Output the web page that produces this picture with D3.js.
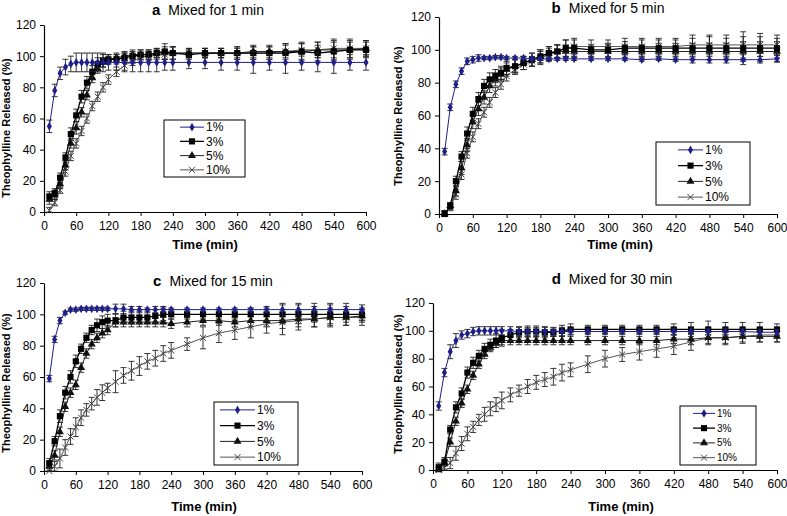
<!DOCTYPE html>
<html><head><meta charset="utf-8">
<script src="https://cdn.jsdelivr.net/npm/d3@7/dist/d3.min.js"></script>
<style>body{margin:0;background:#fff}svg{display:block}</style>
</head><body>
<script>
// ---------- DATA ----------
const times = [10,20,30,40,50,60,70,80,90,100,110,120,135,150,165,180,195,210,225,240,270,300,330,360,390,420,450,480,510,540,570,600];
const xTicks = [0,60,120,180,240,300,360,420,480,540,600];
const yTicks = [0,20,40,60,80,100,120];
const seriesNames = ["1%","3%","5%","10%"];
const panelLetters = ["a","b","c","d"];
const panelTitles = ["Mixed for 1 min","Mixed for 5 min","Mixed for 15 min","Mixed for 30 min"];
const xLabel = "Time (min)";
const yLabel = "Theophylline Released  (%)";

// Panel a (1 min)
const a_1 = [55,78,89,93,95,96,96,96,96,96,96,96,96,96,96,96,96,96,96,96,96,96,96,96,96,96,96,96,96,96,96,96];
const a_3 = [10,12,22,35,50,62,74,83,90,95,97,98,98,99,100,101,101,102,103,102,101,102,102,102,102,102,102,103,102,103,104,104];
const a_5 = [8,11,18,30,44,54,64,75,86,92,96,98,99,100,101,101,101,102,102,102,102,102,102,102,103,103,103,103,104,104,104,105];
const a_10 = [1,6,14,26,36,44,52,60,68,74,80,85,90,94,97,99,100,101,101,102,102,102,102,102,102,102,103,104,104,105,105,105];
const a_1e = [4,4,4,5,5,6,6,6,6,6,6,5,5,6,6,6,6,6,5,5,4,4,5,5,7,5,7,5,6,7,5,5];
const a_3e = [3,3,3,3,4,4,4,4,4,4,4,3,3,3,3,3,3,3,5,4,3,3,3,4,4,4,6,6,5,6,6,5];
const a_5e = [3,3,3,3,3,4,3,3,3,3,3,3,3,3,3,3,3,3,4,4,3,3,3,4,4,4,5,5,5,6,5,5];
const a_10e = [2,2,2,3,3,3,3,3,3,3,3,3,3,3,3,3,3,3,3,4,3,3,3,3,4,4,4,4,5,6,6,5];

// Panel b (5 min)
const b_1 = [38,65,79,87,93,94,95,95,95,95.5,95.5,95,95,95,94.5,94.5,94.5,94.5,94.5,94.5,94.5,94.5,94.5,94,94.5,94,94,94,94,94,94,94.5];
const b_3 = [0,5,20,35,49,61,70,78,82,84,86,89,90,92,94,96,98,99,101,101,100,100,101,101,101,101,101,101,101,101,101,101];
const b_5 = [0,5,14,28,42,56,64,71,78,82,85,88,90,92,94,96,98,99,99,99,99,99,99,99,99,99,99,99,99,99,99,99];
const b_10 = [0,4,12,24,37,47,55,62,68,74,79,84,88,91,93,95,97,99,101,102,102,102,102,102,102,102,103,103,103,103,103,103];
const b_1e = [2,2,2,2,2,2,2,1,1,1,1,1,1,1,1,1,1,1,1,1,1,1,1,1,1,1,2,2,2,3,2,2];
const b_3e = [2,2,3,3,4,4,4,4,4,4,4,4,4,4,4,4,4,4,5,5,3,4,4,5,5,5,6,7,6,7,7,6];
const b_5e = [2,2,3,4,4,4,4,4,4,4,4,4,4,4,4,4,4,4,4,4,3,4,4,4,5,5,5,5,5,6,6,6];
const b_10e = [2,2,3,3,3,3,3,3,3,3,3,3,3,3,3,4,4,4,5,5,4,4,5,5,5,5,6,6,6,8,7,6];

// Panel c (15 min)
const c_1 = [59,84,96,101,103,103,103.5,103.5,103.5,103.5,103.5,103.5,103.5,103.5,103,103,103,103,103,103,103,103,103,103,103,103,103,103,103,103,103,103];
const c_3 = [5,19,35,50,60,70,78,85,90,93,95,96,96,98,98,98,98,99,100,100,100,100,100,100,100,100,100,100,100,100,100,100];
const c_5 = [3,10,25,41,50,55,66,75,81,85,88,90,95,95,95,95,95,95,95,94,95,96,96,95,96,96,96,97,97,98,98,99];
const c_10 = [0,3,8,15,22,28,34,39,43,47,50,53,57,61,64,67,70,72,75,77,81,85,88,90,92,94,95,96,97,98,98,98];
const c_1e = [2,2,2,1,1,1,1,1,1,1,1,1,3,3,2,2,1,2,2,1,1,1,1,1,1,2,4,4,4,4,4,3];
const c_3e = [3,3,4,4,4,4,3,3,3,4,4,4,4,4,4,4,3,4,4,3,3,3,3,3,4,4,6,6,5,6,5,4];
const c_5e = [3,3,3,3,3,3,3,3,3,3,3,3,3,3,3,3,3,3,3,3,3,3,3,3,4,4,5,5,5,6,5,4];
const c_10e = [2,3,6,5,5,6,5,4,4,5,5,3,7,5,6,6,5,5,5,5,4,7,6,6,7,6,8,6,5,5,5,5];

// Panel d (30 min)
const d_1 = [46,70,85,93,97,98,99.5,100,100,100,100,100,100,99.5,99.5,99.5,99.5,99.5,99.5,99.5,99.5,99.5,99.5,99.5,99.5,99.5,99.5,99.5,99.5,99.5,99,99];
const d_3 = [2,6,29,45,55,70,77,82,87,90,93,95,97,99,99.5,99.5,99,99,100,101,101,101,101,101,101,101,101,101,101,101,101,101];
const d_5 = [0,5,20,35,48,58,68,76,83,88,91,93,93,93,93,93,93,93,93,93,93,93,93,93,93,94,94,95,95,96,96,96];
const d_10 = [0,2,5,12,19,26,31,36,40,44,47,50,54,57,60,63,65,67,70,72,76,80,83,85,87,89,92,95,95,96,97,97];
const d_1e = [3,3,5,5,3,3,3,3,3,3,3,3,3,3,3,3,3,3,3,2,2,2,2,2,2,2,2,2,2,2,2,2];
const d_3e = [3,3,3,4,4,4,4,4,4,4,5,6,4,4,4,4,4,3,4,4,3,3,3,3,3,4,5,6,5,5,5,4];
const d_5e = [2,2,3,3,3,3,3,3,3,3,3,3,3,3,3,3,3,3,3,3,3,3,3,3,3,3,4,4,4,4,4,4];
const d_10e = [2,2,4,5,5,5,4,4,5,5,5,6,5,4,5,5,5,6,6,5,6,6,5,6,6,6,6,5,5,5,5,5];

const panelValues = [[a_1,a_3,a_5,a_10],[b_1,b_3,b_5,b_10],[c_1,c_3,c_5,c_10],[d_1,d_3,d_5,d_10]];
const panelErrors = [[a_1e,a_3e,a_5e,a_10e],[b_1e,b_3e,b_5e,b_10e],[c_1e,c_3e,c_5e,c_10e],[d_1e,d_3e,d_5e,d_10e]];

// ---------- LAYOUT / STYLE ----------
const layout = [
  {x0:44,x1:366,yTop:25,yBot:212,titleX:208,titleY:15,xlabX:205,xlabY:249,ylabX:10,ylabY:128,
   leg:{x:164,y:120,w:81,h:57,lx0:180,lx1:204,tx:206,fs:12}, tickFs:12},
  {x0:439,x1:777,yTop:17,yBot:214,titleX:608,titleY:13,xlabX:620,xlabY:249,ylabX:402,ylabY:116,
   leg:{x:656,y:142,w:94,h:63,lx0:678,lx1:703,tx:705,fs:12}, tickFs:12},
  {x0:44,x1:362,yTop:283,yBot:471,titleX:213,titleY:286,xlabX:204,xlabY:511,ylabX:10,ylabY:383,
   leg:{x:214,y:402,w:84,h:63,lx0:220,lx1:255,tx:257,fs:12}, tickFs:12},
  {x0:433,x1:777,yTop:303,yBot:470,titleX:612,titleY:284,xlabX:621,xlabY:511,ylabX:402,ylabY:384,
   leg:{x:680,y:406,w:76,h:59,lx0:693,lx1:715,tx:717,fs:10}, tickFs:12}
];

const W = 787, H = 516;

function draw() {
  const styles = [
    {color:"#1f1f8c", line:"#1f1f8c", lw:1, sym:d3.symbolDiamond, size:22, stroke:false},
    {color:"#000",    line:"#000",    lw:1.3, sym:d3.symbolSquare, size:38, stroke:false},
    {color:"#111",    line:"#222",    lw:1, sym:d3.symbolTriangle, size:28, stroke:false},
    {color:"#444",    line:"#555",    lw:1, sym:d3.symbolX || d3.symbolCross, size:26, stroke:true}
  ];
  const svg = d3.select("body").append("svg").attr("width", W).attr("height", H)
    .style("font-family", "Arial, 'Liberation Sans', sans-serif");

  function marker(g, st, x, y) {
    const p = d3.symbol().type(st.sym).size(st.size)();
    const m = g.append("path").attr("d", p).attr("transform", `translate(${x},${y})`);
    if (st.stroke) m.attr("fill","none").attr("stroke", st.color).attr("stroke-width",1);
    else m.attr("fill", st.color);
  }

  layout.forEach((L, pi) => {
    const g = svg.append("g");
    const x = d3.scaleLinear().domain([0,600]).range([L.x0, L.x1]);
    const y = d3.scaleLinear().domain([0,120]).range([L.yBot, L.yTop]);

    const xa = g.append("g").attr("transform", `translate(0,${L.yBot})`)
      .call(d3.axisBottom(x).tickValues(xTicks).tickSize(4).tickSizeOuter(0).tickPadding(5));
    const ya = g.append("g").attr("transform", `translate(${L.x0},0)`)
      .call(d3.axisLeft(y).tickValues(yTicks).tickSize(4).tickSizeOuter(0).tickPadding(4));
    [xa, ya].forEach(a => {
      a.select(".domain").attr("stroke", "#000").attr("stroke-width", 1.2);
      a.selectAll(".tick line").attr("stroke", "#000");
      a.selectAll("text").attr("font-size", L.tickFs).attr("fill", "#000")
        .attr("font-family", "Arial, 'Liberation Sans', sans-serif");
    });

    for (let si = 3; si >= 0; si--) {
      const st = styles[si];
      const vals = panelValues[pi][si], errs = panelErrors[pi][si];
      const pts = times.map((t, i) => ({t, v: vals[i], e: errs[i]}));
      const sg = g.append("g");
      pts.forEach(p => {
        const xx = x(p.t), yh = y(p.v + p.e), yl = y(Math.max(0, p.v - p.e));
        sg.append("line").attr("x1", xx).attr("x2", xx).attr("y1", yh).attr("y2", yl)
          .attr("stroke", "#222").attr("stroke-width", 0.9);
        [yh, yl].forEach(yy => sg.append("line").attr("x1", xx - 3).attr("x2", xx + 3)
          .attr("y1", yy).attr("y2", yy).attr("stroke", "#222").attr("stroke-width", 0.9));
      });
      sg.append("path").datum(pts)
        .attr("d", d3.line().x(d => x(d.t)).y(d => y(d.v)))
        .attr("fill", "none").attr("stroke", st.line).attr("stroke-width", st.lw);
      pts.forEach(p => marker(sg, st, x(p.t), y(p.v)));
    }

    const tt = g.append("text").attr("x", L.titleX).attr("y", L.titleY).attr("text-anchor", "middle")
      .attr("fill", "#000");
    tt.append("tspan").attr("font-weight", "bold").attr("font-size", 15).text(panelLetters[pi]);
    tt.append("tspan").attr("font-size", 14).attr("dx", 8).text(panelTitles[pi]);

    g.append("text").attr("x", L.xlabX).attr("y", L.xlabY).attr("text-anchor", "middle")
      .attr("font-weight", "bold").attr("font-size", 13).text(xLabel);
    g.append("text").attr("transform", `translate(${L.ylabX},${L.ylabY}) rotate(-90)`)
      .attr("text-anchor", "middle").attr("font-weight", "bold").attr("font-size", 11).text(yLabel);

    const lg = L.leg;
    const leg = g.append("g");
    leg.append("rect").attr("x", lg.x).attr("y", lg.y).attr("width", lg.w).attr("height", lg.h)
      .attr("fill", "#fff").attr("stroke", "#000").attr("stroke-width", 1);
    const step = lg.h / 4;
    seriesNames.forEach((nm, si) => {
      const st = styles[si];
      const yy = lg.y + step * (si + 0.5);
      leg.append("line").attr("x1", lg.lx0).attr("x2", lg.lx1).attr("y1", yy).attr("y2", yy)
        .attr("stroke", st.line).attr("stroke-width", st.lw);
      marker(leg, st, (lg.lx0 + lg.lx1) / 2, yy);
      leg.append("text").attr("x", lg.tx).attr("y", yy).attr("dy", "0.35em")
        .attr("font-size", lg.fs).attr("fill", "#000").text(nm);
    });
  });
}
draw();
</script>
</body></html>
